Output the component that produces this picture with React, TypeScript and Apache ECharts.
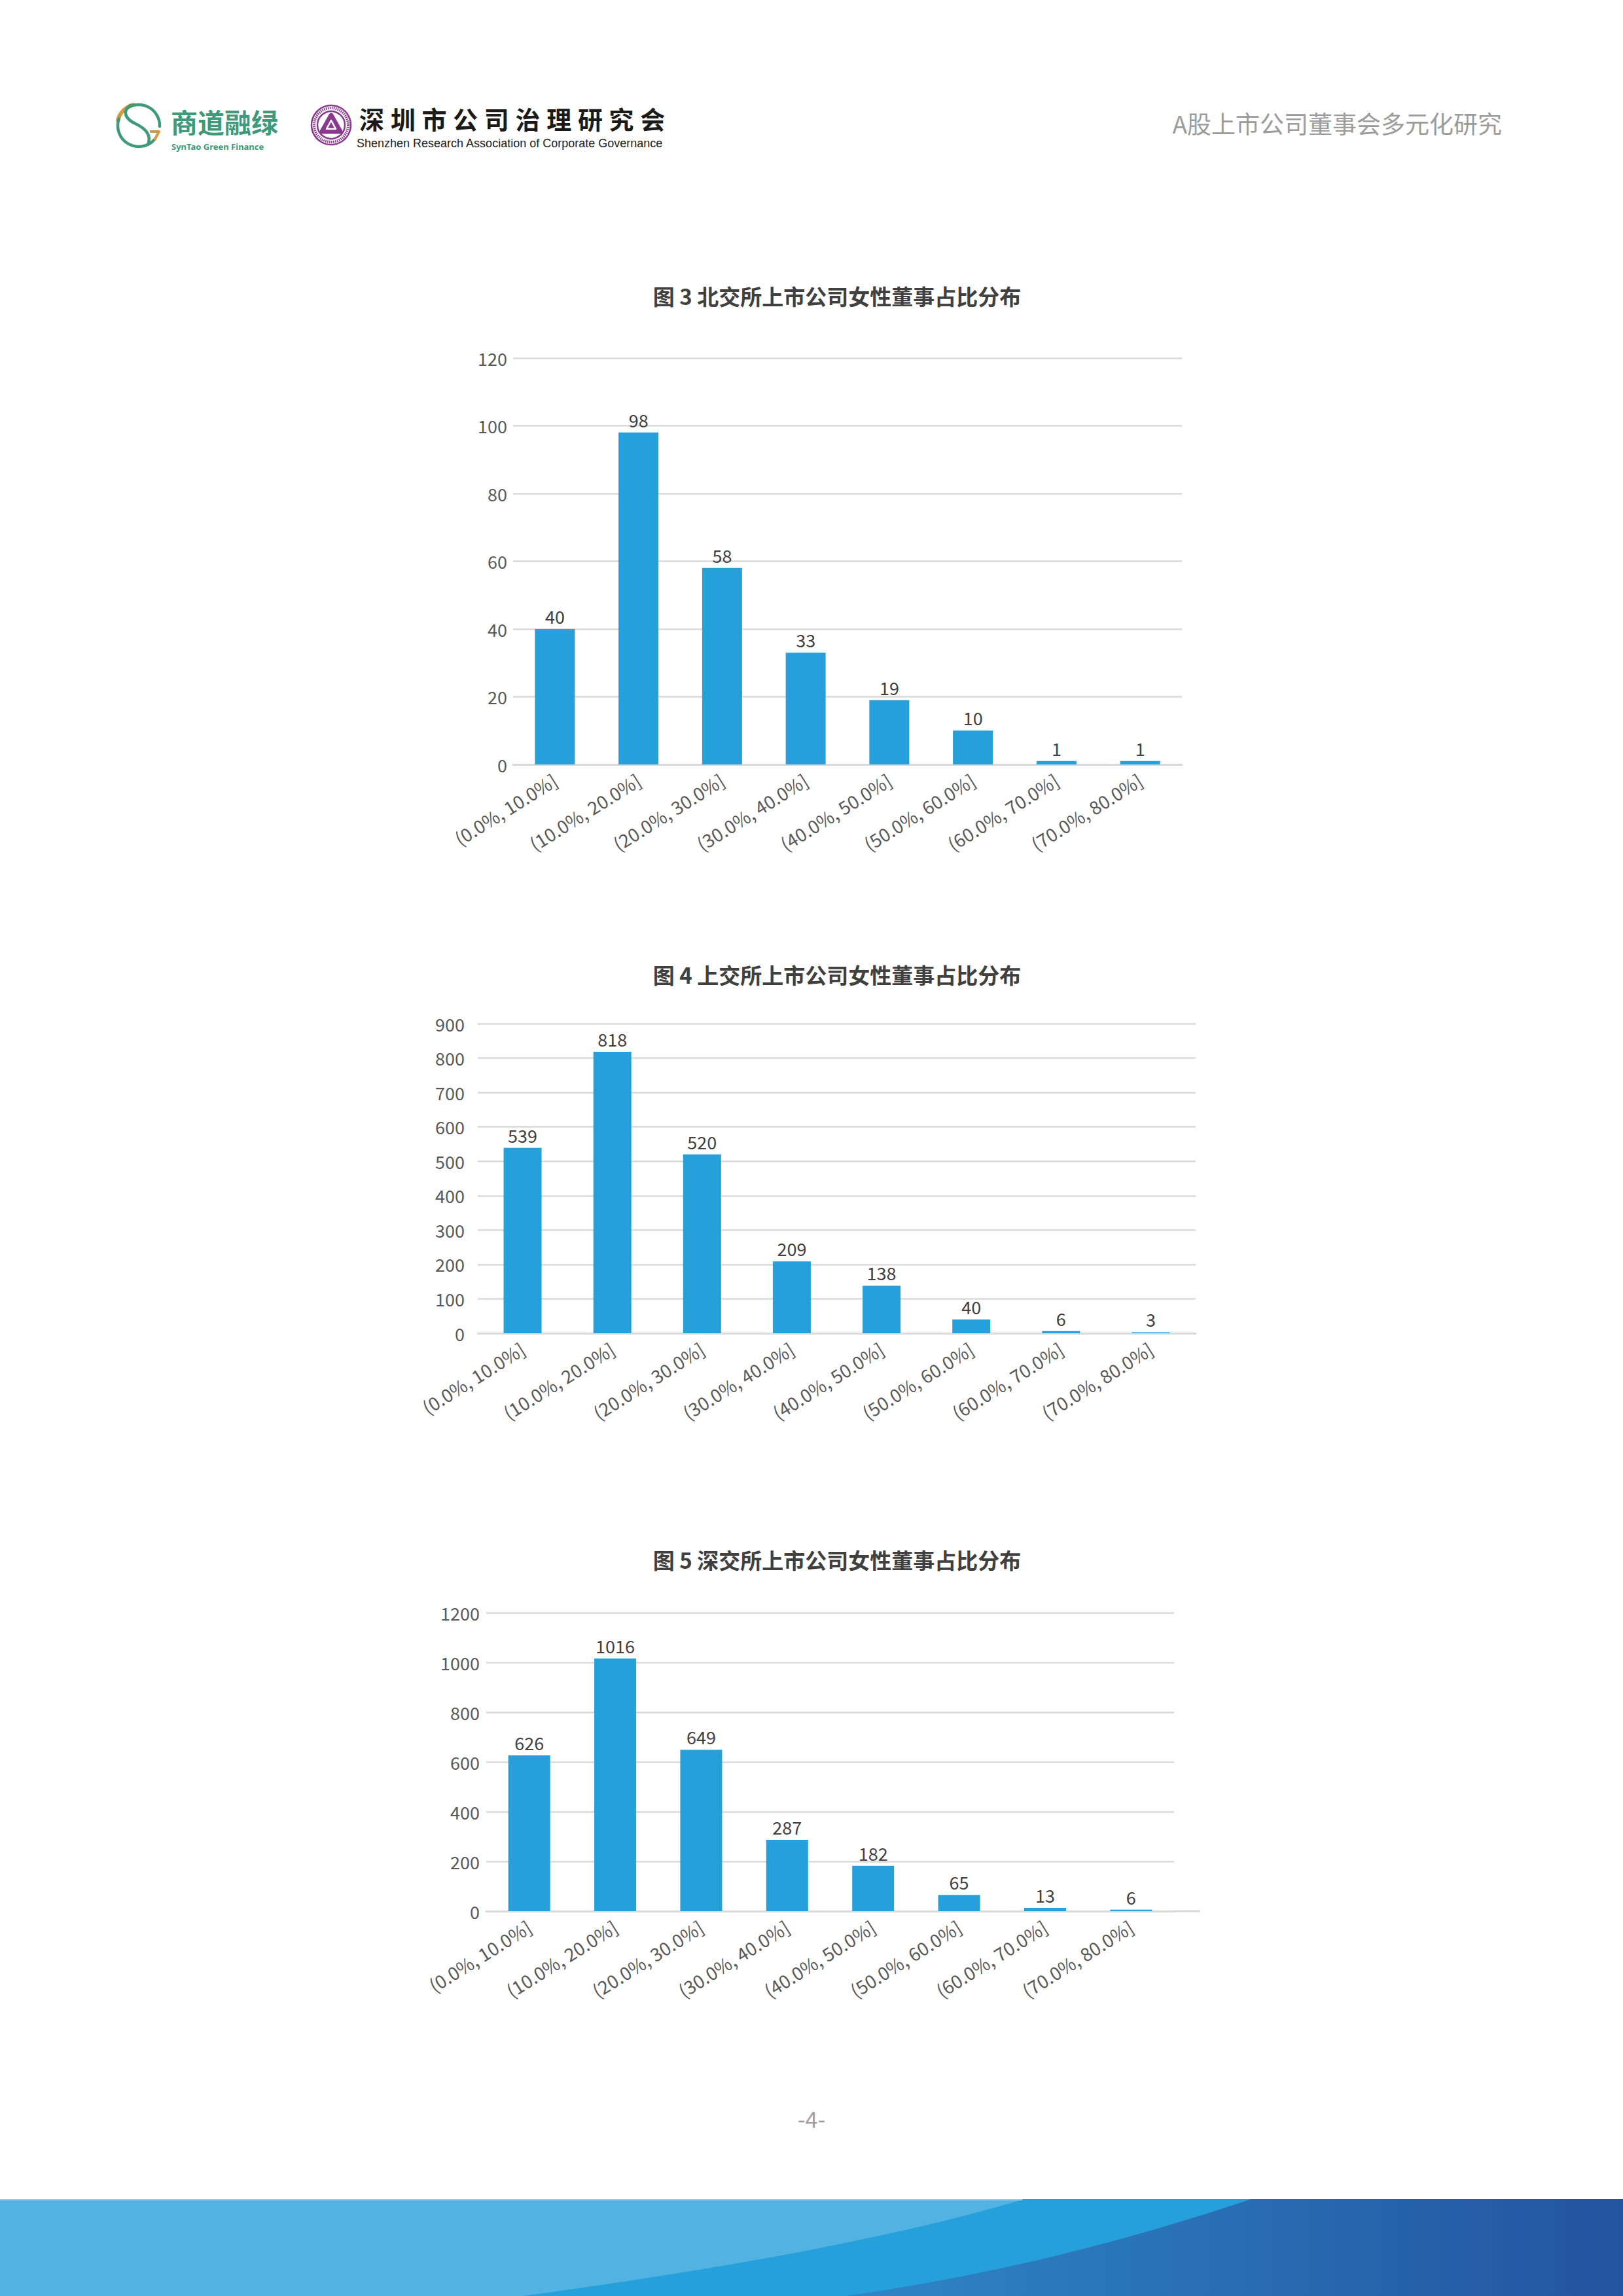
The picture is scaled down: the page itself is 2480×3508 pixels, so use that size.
import React, { useEffect, useRef } from "react";
import * as echarts from "echarts";

// ---------- data ----------
const categories = [
  "(0.0%, 10.0%]",
  "(10.0%, 20.0%]",
  "(20.0%, 30.0%]",
  "(30.0%, 40.0%]",
  "(40.0%, 50.0%]",
  "(50.0%, 60.0%]",
  "(60.0%, 70.0%]",
  "(70.0%, 80.0%]",
];
const bseCounts = [40, 98, 58, 33, 19, 10, 1, 1];
const sseCounts = [539, 818, 520, 209, 138, 40, 6, 3];
const szseCounts = [626, 1016, 649, 287, 182, 65, 13, 6];
const chartTitles = [
  "图 3 北交所上市公司女性董事占比分布",
  "图 4 上交所上市公司女性董事占比分布",
  "图 5 深交所上市公司女性董事占比分布",
];
const yMaxes = [120, 900, 1200];
const yIntervals = [20, 100, 200];
const headerTitle = "A股上市公司董事会多元化研究";
const logoCn = "商道融绿";
const logoEn = "SynTao Green Finance";
const assocCn = "深圳市公司治理研究会";
const assocEn = "Shenzhen Research Association of Corporate Governance";
const pageNo = "-4-";

// ---------- styles / layout ----------
const FONT = '"Noto Sans CJK SC", "Noto Sans", sans-serif';
const BAR = "#25A0DA";
const GRID = "#D9D9D9";
const LABEL = "#595959";
const DARK = "#404040";
const GREEN = "#3E9A78";
const GOLD = "#D29C3E";
const PURPLE = "#8A3A8E";

const layouts = [
  { left: 784, top: 547, width: 1022, height: 621, barWidth: 61, yMargin: 9, titleY: 452 },
  { left: 730, top: 1564, width: 1097, height: 473, barWidth: 58, yMargin: 20, titleY: 1489 },
  { left: 743, top: 2464, width: 1051, height: 456, barWidth: 64, yMargin: 10, titleY: 2383 },
];

const bandMidD = "M0 3360 L1912 3360 Q1600 3465 1292 3508 L0 3508 Z";
const bandLightD = "M0 3360 L1565 3360 Q1300 3440 799 3508 L0 3508 Z";
const sCurveD = "M199 161 C186 171 192 182 207 189 C222 196 232 206 226 221";

echarts.graphic.registerShape("bandMid", echarts.graphic.extendPath(bandMidD, {}));
echarts.graphic.registerShape("bandLight", echarts.graphic.extendPath(bandLightD, {}));
echarts.graphic.registerShape("sCurve", echarts.graphic.extendPath(sCurveD, {}));

function buildOption() {
  const seriesData = [bseCounts, sseCounts, szseCounts];
  const deg = Math.PI / 180;

  const graphics: any[] = [];

  // ---- header: SynTao logo ----
  graphics.push({
    type: "arc",
    shape: { cx: 212, cy: 192, r: 33, startAngle: 195 * deg, endAngle: 255 * deg, clockwise: true },
    style: { stroke: GOLD, lineWidth: 6, fill: null, lineCap: "round" },
  });
  graphics.push({
    type: "arc",
    shape: { cx: 212, cy: 192, r: 32, startAngle: 235 * deg, endAngle: 362 * deg, clockwise: true },
    style: { stroke: GREEN, lineWidth: 4.5, fill: null, lineCap: "round" },
  });
  graphics.push({
    type: "arc",
    shape: { cx: 212, cy: 192, r: 32, startAngle: 42 * deg, endAngle: 200 * deg, clockwise: true },
    style: { stroke: GREEN, lineWidth: 4.5, fill: null, lineCap: "round" },
  });
  graphics.push({
    type: "sCurve",
    x: 0,
    y: 0,
    style: { stroke: GREEN, lineWidth: 4.5, fill: null, lineCap: "round" },
  });
  graphics.push({
    type: "polyline",
    shape: { points: [[229, 201], [243, 201], [236, 214]] },
    style: { stroke: GOLD, lineWidth: 4, fill: null, lineJoin: "round" },
  });
  graphics.push({
    type: "text",
    style: {
      text: logoCn, x: 261, y: 185, fontSize: 41, fontWeight: "bold", fontFamily: FONT,
      fill: GREEN, align: "left", verticalAlign: "middle",
    },
  });
  graphics.push({
    type: "text",
    style: {
      text: logoEn, x: 262, y: 224, fontSize: 13, fontWeight: "bold", fontFamily: '"Noto Sans", sans-serif',
      fill: GREEN, align: "left", verticalAlign: "middle",
    },
  });

  // ---- header: association seal ----
  const sx = 506, sy = 191;
  graphics.push({ type: "circle", shape: { cx: sx, cy: sy, r: 30 }, style: { fill: "#fff", stroke: PURPLE, lineWidth: 2.5 } });
  graphics.push({ type: "circle", shape: { cx: sx, cy: sy, r: 26 }, style: { fill: null, stroke: PURPLE, lineWidth: 4, lineDash: [1.6, 1.4] } });
  graphics.push({ type: "circle", shape: { cx: sx, cy: sy, r: 21 }, style: { fill: null, stroke: PURPLE, lineWidth: 2.5 } });
  graphics.push({
    type: "polygon",
    shape: { points: [[sx, sy - 15], [sx + 14, sy + 10], [sx - 14, sy + 10]] },
    style: { fill: PURPLE, stroke: PURPLE, lineWidth: 7, lineJoin: "round" },
  });
  graphics.push({
    type: "polygon",
    shape: { points: [[sx, sy - 7], [sx + 7, sy + 6], [sx - 7, sy + 6]] },
    style: { fill: null, stroke: "#fff", lineWidth: 2.5, lineJoin: "round" },
  });
  const chars = assocCn.split("");
  chars.forEach((ch, i) => {
    graphics.push({
      type: "text",
      style: {
        text: ch, x: 568 + i * 47.7, y: 180, fontSize: 38, fontWeight: "bold", fontFamily: FONT,
        fill: "#1a1a1a", align: "center", verticalAlign: "middle",
      },
    });
  });
  graphics.push({
    type: "text",
    style: {
      text: assocEn, x: 545, y: 219, fontSize: 18, fontFamily: '"Liberation Sans", Arial, sans-serif',
      fill: "#1a1a1a", align: "left", verticalAlign: "middle",
    },
  });

  // ---- header right ----
  graphics.push({
    type: "text",
    style: {
      text: headerTitle, x: 2295, y: 188, fontSize: 37, fontFamily: FONT,
      fill: "#9C9C9C", align: "right", verticalAlign: "middle",
    },
  });

  // ---- chart titles ----
  layouts.forEach((l, i) => {
    graphics.push({
      type: "text",
      style: {
        text: chartTitles[i], x: 1279, y: l.titleY, fontSize: 33, fontWeight: "bold", fontFamily: FONT,
        fill: DARK, align: "center", verticalAlign: "middle",
      },
    });
  });

  // axis-line overhang of the third chart
  graphics.push({
    type: "line",
    shape: { x1: 1794, y1: 2920, x2: 1834, y2: 2920 },
    style: { stroke: GRID, lineWidth: 3 },
  });

  // ---- page number ----
  graphics.push({
    type: "text",
    style: {
      text: pageNo, x: 1240, y: 3236, fontSize: 34, fontFamily: FONT,
      fill: "#A0A0A0", align: "center", verticalAlign: "middle",
    },
  });

  // ---- bottom band ----
  graphics.push({
    type: "rect",
    shape: { x: 0, y: 3360, width: 2480, height: 148 },
    style: {
      fill: new echarts.graphic.LinearGradient(0, 0, 1, 0, [
        { offset: 0, color: "#3296D2" },
        { offset: 0.52, color: "#2E86C6" },
        { offset: 1, color: "#2354A0" },
      ]),
    },
  });
  graphics.push({ type: "bandMid", x: 0, y: 0, style: { fill: "#26A0DA" } });
  graphics.push({ type: "bandLight", x: 0, y: 0, style: { fill: "#52B2E2" } });
  graphics.push({
    type: "line",
    shape: { x1: 0, y1: 3361, x2: 1562, y2: 3361 },
    style: { stroke: "#8ACDEE", lineWidth: 2 },
  });

  return {
    animation: false,
    backgroundColor: "#ffffff",
    textStyle: { fontFamily: FONT },
    grid: layouts.map((l) => ({ left: l.left, top: l.top, width: l.width, height: l.height })),
    xAxis: layouts.map((l, i) => ({
      type: "category",
      gridIndex: i,
      data: categories,
      axisTick: { show: false },
      axisLine: { show: true, lineStyle: { color: GRID, width: 3 } },
      axisLabel: {
        interval: 0,
        rotate: 32,
        margin: 21,
        fontSize: 28,
        color: LABEL,
        fontFamily: FONT,
      },
    })),
    yAxis: layouts.map((l, i) => ({
      type: "value",
      gridIndex: i,
      min: 0,
      max: yMaxes[i],
      interval: yIntervals[i],
      axisLine: { show: false },
      axisTick: { show: false },
      splitLine: { show: true, lineStyle: { color: GRID, width: 2.5 } },
      axisLabel: {
        fontSize: 27,
        color: LABEL,
        margin: l.yMargin,
        fontFamily: FONT,
        formatter: (v: number) => String(v),
      },
    })),
    series: layouts.map((l, i) => ({
      type: "bar",
      xAxisIndex: i,
      yAxisIndex: i,
      data: seriesData[i],
      barWidth: l.barWidth,
      itemStyle: { color: BAR },
      label: {
        show: true,
        position: "top",
        distance: 6,
        fontSize: 27,
        color: DARK,
        fontFamily: FONT,
      },
    })),
    graphic: graphics,
  };
}

export default function App() {
  const ref = useRef<HTMLDivElement>(null);
  useEffect(() => {
    document.body.style.margin = "0";
    if (!ref.current) return;
    const chart = echarts.init(ref.current, undefined, { renderer: "svg" });
    chart.setOption(buildOption() as any);
    return () => chart.dispose();
  }, []);
  return <div ref={ref} style={{ width: 2480, height: 3508, background: "#fff" }} />;
}
